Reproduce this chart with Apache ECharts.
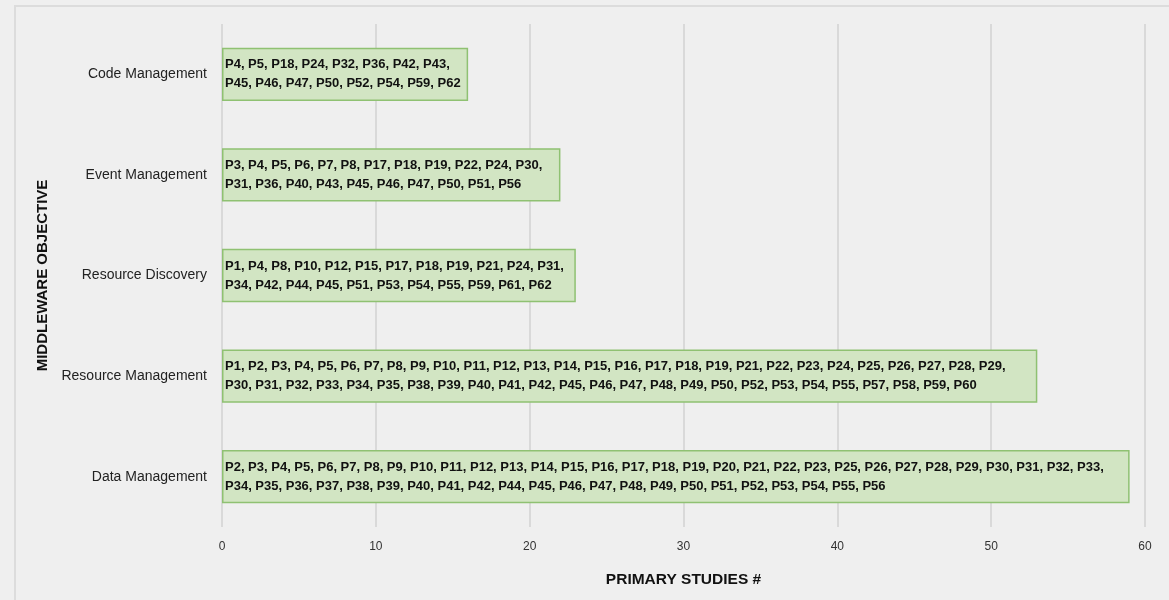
<!DOCTYPE html>
<html>
<head>
<meta charset="utf-8">
<script src="https://cdn.jsdelivr.net/npm/echarts@6/dist/echarts.min.js"></script>
<style>
  html, body { margin: 0; padding: 0; background: #efefef; }
  #frame {
    position: absolute; left: 14px; top: 5px; width: 1160px; height: 600px;
    border-top: 2px solid #dcdcdc; border-left: 2px solid #dcdcdc;
  }
  #main { position: absolute; left: 0; top: 0; width: 1169px; height: 600px; }
</style>
</head>
<body>
<div id="frame"></div>
<div id="main"></div>
<script>
  // categories bottom -> top
  const objectives = [
    "Data Management",
    "Resource Management",
    "Resource Discovery",
    "Event Management",
    "Code Management"
  ];
  const studyCounts = [59, 53, 23, 22, 16];
  const studyLists = [
    "P2, P3, P4, P5, P6, P7, P8, P9, P10, P11, P12, P13, P14, P15, P16, P17, P18, P19, P20, P21, P22, P23, P25, P26, P27, P28, P29, P30, P31, P32, P33,\nP34, P35, P36, P37, P38, P39, P40, P41, P42, P44, P45, P46, P47, P48, P49, P50, P51, P52, P53, P54, P55, P56",
    "P1, P2, P3, P4, P5, P6, P7, P8, P9, P10, P11, P12, P13, P14, P15, P16, P17, P18, P19, P21, P22, P23, P24, P25, P26, P27, P28, P29,\nP30, P31, P32, P33, P34, P35, P38, P39, P40, P41, P42, P45, P46, P47, P48, P49, P50, P52, P53, P54, P55, P57, P58, P59, P60",
    "P1, P4, P8, P10, P12, P15, P17, P18, P19, P21, P24, P31,\nP34, P42, P44, P45, P51, P53, P54, P55, P59, P61, P62",
    "P3, P4, P5, P6, P7, P8, P17, P18, P19, P22, P24, P30,\nP31, P36, P40, P43, P45, P46, P47, P50, P51, P56",
    "P4, P5, P18, P24, P32, P36, P42, P43,\nP45, P46, P47, P50, P52, P54, P59, P62"
  ];
  const xTicks = { min: 0, max: 60, interval: 10 };

  const font = "'Liberation Sans', Arial, sans-serif";

  const chart = echarts.init(document.getElementById("main"));
  chart.setOption({
    backgroundColor: "transparent",
    animation: false,
    grid: { left: 222, right: 24, top: 24, bottom: 73, containLabel: false },
    xAxis: {
      type: "value",
      min: xTicks.min,
      max: xTicks.max,
      interval: xTicks.interval,
      name: "PRIMARY STUDIES #",
      nameLocation: "middle",
      nameGap: 45,
      nameTextStyle: { color: "#111", fontSize: 15.5, fontWeight: "bold", fontFamily: font },
      axisLine: { show: false },
      axisTick: { show: false },
      axisLabel: { color: "#333", fontSize: 12, margin: 14, fontFamily: font },
      splitLine: { show: true, lineStyle: { color: "#d9d9d9", width: 2 } }
    },
    yAxis: {
      type: "category",
      data: objectives,
      name: "MIDDLEWARE OBJECTIVE",
      nameLocation: "middle",
      nameGap: 166,
      nameTextStyle: { color: "#111", fontSize: 15, fontWeight: "bold", fontFamily: font },
      axisLine: { show: false },
      axisTick: { show: false },
      axisLabel: { color: "#222", fontSize: 14, margin: 15, fontFamily: font }
    },
    series: [{
      type: "bar",
      data: studyCounts,
      barCategoryGap: "47%",
      itemStyle: { color: "#d2e5c3", borderColor: "#8fc172", borderWidth: 1.5 },
      label: {
        show: true,
        position: "insideLeft",
        distance: 3,
        color: "#111",
        fontSize: 13,
        fontWeight: "bold",
        lineHeight: 19,
        fontFamily: font,
        formatter: (p) => studyLists[p.dataIndex]
      }
    }]
  });
</script>
</body>
</html>
